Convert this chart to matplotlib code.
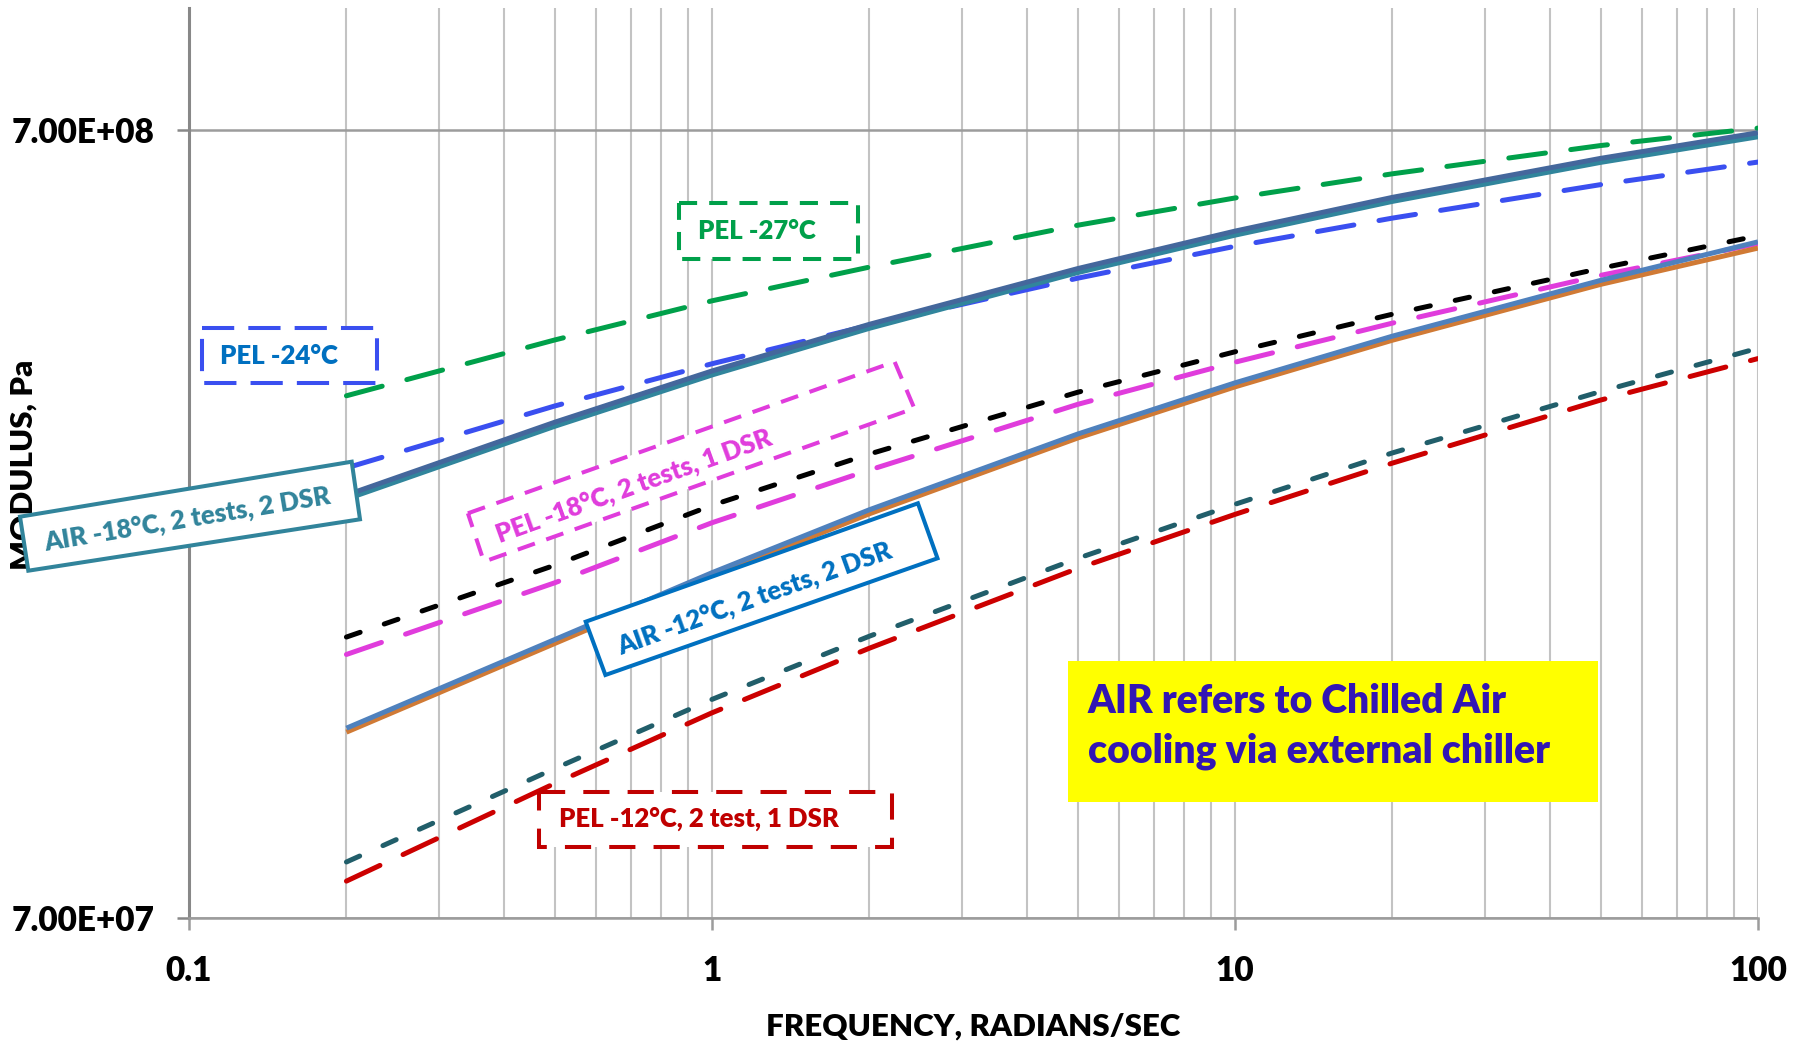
import matplotlib
matplotlib.use("Agg")
import matplotlib.pyplot as plt
from matplotlib.transforms import Affine2D
from matplotlib.patches import Polygon, Rectangle
from matplotlib.ticker import LogLocator, NullLocator, FixedLocator, NullFormatter, FixedFormatter

# ---------------- data ----------------
freq = [0.2, 0.5, 1, 2, 5, 10, 20, 50, 100]
pel_27 = [3.22e8, 3.79e8, 4.25e8, 4.69e8, 5.30e8, 5.74e8, 6.16e8, 6.69e8, 7.04e8]
pel_24 = [2.608e8, 3.125e8, 3.536e8, 3.957e8, 4.540e8, 4.984e8, 5.412e8, 5.968e8, 6.375e8]
air_18_t1 = [2.409e8, 2.980e8, 3.462e8, 3.968e8, 4.669e8, 5.210e8, 5.750e8, 6.444e8, 6.945e8]
air_18_t2 = [2.381e8, 2.945e8, 3.422e8, 3.922e8, 4.615e8, 5.149e8, 5.683e8, 6.369e8, 6.864e8]
pel_18_t1 = [1.591e8, 1.962e8, 2.338e8, 2.716e8, 3.253e8, 3.662e8, 4.087e8, 4.673e8, 5.14e8]
pel_18_t2 = [1.512e8, 1.864e8, 2.222e8, 2.592e8, 3.140e8, 3.552e8, 3.982e8, 4.578e8, 5.022e8]
air_12_t1 = [1.219e8, 1.579e8, 1.920e8, 2.308e8, 2.879e8, 3.344e8, 3.833e8, 4.511e8, 5.049e8]
air_12_t2 = [1.205e8, 1.561e8, 1.898e8, 2.281e8, 2.846e8, 3.305e8, 3.788e8, 4.459e8, 4.958e8]
pel_12_t1 = [8.245e7, 1.083e8, 1.326e8, 1.595e8, 2.002e8, 2.345e8, 2.725e8, 3.26e8, 3.70e8]
pel_12_t2 = [7.797e7, 1.037e8, 1.275e8, 1.540e8, 1.944e8, 2.277e8, 2.645e8, 3.18e8, 3.59e8]

x_ticks = [0.1, 1, 10, 100]
x_tick_labels = ["0.1", "1", "10", "100"]
y_ticks = [7e7, 7e8]
y_tick_labels = ["7.00E+07", "7.00E+08"]

# ---------------- style ----------------
WEIGHT = 'heavy'
plt.rcParams['font.family'] = ['Lato', 'DejaVu Sans']
plt.rcParams['font.weight'] = WEIGHT

W, H = 1810, 1047
fig = plt.figure(figsize=(W / 100, H / 100), dpi=100)
# pixel transform (image coords, y down)
T = Affine2D().scale(1 / W, -1 / H).translate(0, 1) + fig.transFigure

ax = fig.add_axes([189 / W, 1 - 918 / H, (1758 - 189) / W, (918 - 8) / H])
ax.set_xscale('log')
ax.set_yscale('log')

LW = 3.6
long_dash = (0, (7.4, 5.1))
short_dash = (0, (2.9, 5.1))

def dline(y, color, ls, z=2):
    ax.plot(freq, y, color=color, lw=LW, linestyle=ls, dash_capstyle='round', zorder=z)

def sline(y, color, z=3):
    ax.plot(freq, y, color=color, lw=LW, solid_capstyle='butt', zorder=z)

dline(pel_27, '#00A04A', long_dash)
dline(pel_24, '#3A4FF0', long_dash)
dline(pel_18_t1, '#000000', short_dash)
dline(pel_18_t2, '#E03CDC', long_dash)
dline(pel_12_t1, '#215E6A', short_dash)
dline(pel_12_t2, '#CC0000', long_dash)
sline(air_18_t2, '#31859C')
sline(air_18_t1, '#44679C')
sline(air_12_t2, '#D07A35')
sline(air_12_t1, '#4F81BD')

ax.set_xlim(0.1, 100)
ax.set_ylim(7e7, 1e9)

ax.xaxis.set_major_locator(FixedLocator(x_ticks))
ax.xaxis.set_major_formatter(FixedFormatter(x_tick_labels))
ax.xaxis.set_minor_locator(LogLocator(base=10, subs=[2, 3, 4, 5, 6, 7, 8, 9], numticks=20))
ax.xaxis.set_minor_formatter(NullFormatter())
ax.yaxis.set_major_locator(FixedLocator(y_ticks))
ax.yaxis.set_major_formatter(FixedFormatter(y_tick_labels))
ax.yaxis.set_minor_locator(NullLocator())

ax.set_axisbelow(True)
ax.grid(True, which='both', axis='x', color='#C3C3C3', lw=1.5)
ax.grid(True, which='major', axis='y', color='#9C9C9C', lw=1.8)

for s in ['top', 'right']:
    ax.spines[s].set_visible(False)
ax.spines['left'].set_color('#888888')
ax.spines['left'].set_linewidth(2.2)
ax.spines['bottom'].set_color('#9C9C9C')
ax.spines['bottom'].set_linewidth(1.8)

ax.tick_params(axis='y', which='major', direction='out', length=8.6, width=1.8,
               color='#888888', pad=16, labelsize=24)
ax.tick_params(axis='x', which='major', direction='out', length=8.6, width=1.8,
               color='#9C9C9C', pad=18, labelsize=24)
ax.tick_params(axis='x', which='minor', length=0)
for lab in ax.get_xticklabels() + ax.get_yticklabels():
    lab.set_fontweight(WEIGHT)

# axis titles
fig.text(973.5, 1036, 'FREQUENCY, RADIANS/SEC', transform=T, ha='center', va='baseline',
         fontsize=22.5, fontweight=WEIGHT, zorder=1)
fig.text(23.5, 465, 'MODULUS, Pa', transform=T, ha='center', va='center', rotation=90,
         fontsize=22.5, fontweight=WEIGHT, zorder=1)

# annotation boxes
def poly_box(corners, edge, ls, lw=2.9):
    p = Polygon(corners, closed=True, facecolor='white', edgecolor=edge, linestyle=ls,
                linewidth=lw, transform=T, zorder=5, joinstyle='miter')
    fig.add_artist(p)

def btext(x, y, s, color, rot=0, size=18.5):
    fig.text(x, y, s, transform=T, ha='center', va='center', rotation=rot,
             rotation_mode='anchor', color=color, fontsize=size, fontweight=WEIGHT, zorder=6)

# PEL -27
poly_box([(679, 203), (858, 203), (858, 259), (679, 259)], '#00A04A', (0, (4.5, 3.0)))
btext(756.7, 231, 'PEL -27°C', '#00A04A')
# PEL -24
poly_box([(202, 328), (377, 328), (377, 383), (202, 383)], '#3A4FF0', (0, (8.0, 3.5)))
btext(279, 356.5, 'PEL -24°C', '#0070C0')
# AIR -18
poly_box([(20, 516.7), (351.7, 461.7), (360, 519.3), (28.3, 570.7)], '#31849B', '-')
btext(187, 519, 'AIR -18°C, 2 tests, 2 DSR', '#31849B', rot=9.4)
# PEL -18
poly_box([(467.9, 513.3), (894.6, 361.7), (914.3, 408.3), (483.9, 561.7)], '#E03CDC', (0, (4.5, 3.0)))
btext(634, 486, 'PEL -18°C, 2 tests, 1 DSR', '#E03CDC', rot=19.8)
# AIR -12
poly_box([(585.7, 621.7), (917.9, 503.3), (937.5, 558.3), (605.4, 675)], '#0070C0', '-')
btext(754.5, 598.4, 'AIR -12°C, 2 tests, 2 DSR', '#0070C0', rot=19.7)
# PEL -12
poly_box([(539, 792), (891.5, 792), (891.5, 846.7), (539, 846.7)], '#C00000', (0, (6.5, 4.5)))
btext(698.7, 819, 'PEL -12°C, 2 test, 1 DSR', '#C00000')

# yellow note
fig.add_artist(Rectangle((1068, 661), 530, 141, facecolor='#FFFF00', edgecolor='none',
                         transform=T, zorder=5))
fig.text(1087.5, 713, 'AIR refers to Chilled Air', transform=T, ha='left', va='baseline',
         color='#3216B4', fontsize=28.2, fontweight=WEIGHT, zorder=6)
fig.text(1087.5, 762, 'cooling via external chiller', transform=T, ha='left', va='baseline',
         color='#3216B4', fontsize=28.2, fontweight=WEIGHT, zorder=6)

fig.savefig('out.png', dpi=100)
